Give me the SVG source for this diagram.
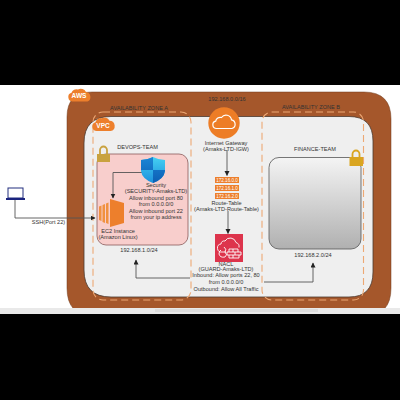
<svg xmlns="http://www.w3.org/2000/svg" width="400" height="400" viewBox="0 0 400 400">
<defs>
<linearGradient id="g" x1="0" y1="0" x2="0" y2="1"><stop offset="0" stop-color="#f4f4f4"/><stop offset="1" stop-color="#b0b0b0"/></linearGradient>
<linearGradient id="sh" x1="0" y1="0" x2="0" y2="1"><stop offset="0" stop-color="#45d0f2"/><stop offset="1" stop-color="#1c8fdc"/></linearGradient>
<linearGradient id="sh2" x1="0" y1="0" x2="0" y2="1"><stop offset="0" stop-color="#1c86d6"/><stop offset="1" stop-color="#0c5fb4"/></linearGradient>
<clipPath id="clip"><rect x="0" y="85" width="400" height="223"/></clipPath>
<marker id="a" markerWidth="6" markerHeight="6" refX="4.500" refY="2.500" orient="auto" markerUnits="userSpaceOnUse"><path d="M0 0L5 2.500L0 5Z" fill="#222"/></marker>
</defs>
<style>
text{font-family:"Liberation Sans",Arial,sans-serif;font-size:5.6px;fill:#333;text-anchor:middle}
.w{fill:#fff;font-weight:700;font-size:6.500px}
.s{font-size:4.600px;fill:#fff}
.dash{fill:none;stroke:#eda874;stroke-width:1.100;stroke-dasharray:7 4}
.c{fill:none;stroke:#555;stroke-width:.9;marker-end:url(#a)}
.or{fill:#ed7f2c}
.ln{fill:none;stroke:#fff;stroke-width:.9}
</style>
<rect width="400" height="400" fill="#000"/>
<rect y="85" width="400" height="223" fill="#fff"/>
<rect y="308" width="400" height="6" fill="#e9e9e9"/>
<rect x="155" y="309" width="163" height="3" fill="#dcdcdc"/>
<g id="aws">
<path clip-path="url(#clip)" d="M92 92H364Q391 92 391 119V288Q391 316 364 316H94Q67 316 67 288V117Q67 92 92 92Z" fill="#a5572b" stroke="#6e3a1c" stroke-width=".5"/>
<path d="M111 116.500H349Q373 116.500 373 141V272Q373 297 349 297H111Q84 297 84 270V143Q84 116.500 111 116.500Z" fill="#efefef" stroke="#4a3a30" stroke-width=".8"/>
<path class="or" d="M73 101.500a4.500 4.500 0 0 1-1.500-8.800a5 5 0 0 1 6.500-3.200a6 6 0 0 1 8 2.500a5 5 0 0 1 1.500 9.500Z"/>
<text class="w" x="79" y="98">AWS</text>
<text x="227" y="100.500">192.168.0.0/16</text>
</g>
<g id="zone-a">
<text x="139" y="110">AVAILABILITY ZONE A</text>
<rect class="dash" x="93" y="112" width="98" height="188" rx="10"/>
</g>
<g id="zone-b">
<text x="311" y="109">AVAILABILITY ZONE B</text>
<rect class="dash" x="262" y="112" width="101.500" height="188" rx="10"/>
</g>
<g id="vpc">
<path class="or" d="M97 131a4.500 4.500 0 0 1-1.500-8.800a5 5 0 0 1 6-4a6 6 0 0 1 8 2.500a5.200 5.200 0 0 1 1 10.300Z"/>
<text class="w" x="103" y="128">VPC</text>
</g>
<g id="devops-team">
<text x="137.500" y="148.700">DEVOPS-TEAM</text>
<rect x="97" y="154" width="91" height="91" rx="9" fill="#f8cecc" stroke="#8a5a5a" stroke-width=".8"/>
<path d="M100 155v-5a3.500 3.500 0 0 1 7 0v5" fill="none" stroke="#c9a23f" stroke-width="1.800"/>
<rect x="97" y="154" width="13" height="8" fill="#c9a23f"/>
</g>
<g id="finance-team">
<text x="315" y="151">FINANCE-TEAM</text>
<rect x="269" y="157.500" width="92" height="91.500" rx="10" fill="url(#g)" stroke="#555" stroke-width=".8"/>
<path d="M352.500 158v-4a3.500 3.500 0 0 1 7 0v4" fill="none" stroke="#d9a520" stroke-width="1.800"/>
<rect x="349.500" y="157" width="13.500" height="9" fill="#d9a520"/>
<text x="313" y="257">192.168.2.0/24</text>
</g>
<g id="connectors">
<path class="c" d="M15 199V218H95"/>
<path class="c" d="M142 172.500H113V198"/>
<path class="c" d="M227 150V175.500"/>
<path class="c" d="M228 211V233.500"/>
<path class="c" d="M190 278H136V260"/>
<path class="c" d="M264 282H313V263"/>
<text x="48.500" y="224">SSH(Port 22)</text>
</g>
<g id="laptop">
<rect x="8" y="188" width="15" height="10" fill="#fff" stroke="#232f7e" stroke-width="1"/>
<rect x="6" y="198" width="19" height="2" fill="#1a237e"/>
</g>
<g id="security">
<path d="M153 157Q147 160 141 160V171Q142 179 153 183Q164 179 165 171V160Q159 160 153 157Z" fill="url(#sh)"/>
<path d="M153 157Q147 160 141 160V170H153ZM153 170H165V171Q164 179 153 183Z" fill="url(#sh2)"/>
<text x="156" y="187">Security</text>
<text x="156" y="193">(SECURITY-Amaks-LTD)</text>
<text x="156" y="199.500">Allow inbound port 80</text>
<text x="156" y="206">from 0.0.0.0/0</text>
<text x="156" y="212.500">Allow inbound port 22</text>
<text x="156" y="219">from your ip address</text>
</g>
<g id="ec2">
<path d="M99 206.500l2.500-1V221l-2.500-1ZM102.500 205l2.500-1v19l-2.500-1ZM106 203.500l2.500-1V224l-2.500-1Z" fill="#f0913f"/>
<path d="M110 199L124 203V223L110 227Z" class="or"/>
<text x="118" y="232.500">EC2 Instance</text>
<text x="118" y="239">(Amazon Linux)</text>
<text x="139" y="252">192.168.1.0/24</text>
</g>
<g id="gateway">
<circle cx="224" cy="123" r="15.700" fill="#ed7d26"/>
<path d="M216.500 128.500a3.700 3.700 0 0 1-.8-7.300a4.500 4.500 0 0 1 5.800-3.700a5.500 5.500 0 0 1 10 2.300a4.500 4.500 0 0 1 .5 8.700Z" fill="none" stroke="#fff" stroke-width="1.200"/>
<text x="226" y="145">Internet Gateway</text>
<text x="226" y="151">(Amaks-LTD-IGW)</text>
</g>
<g id="route-table">
<rect x="215" y="177" width="24" height="6" class="or"/>
<rect x="215" y="185" width="24" height="6" class="or"/>
<rect x="215" y="193" width="24" height="6" class="or"/>
<text class="s" x="227" y="181.800">172.16.0.0</text>
<text class="s" x="227" y="189.800">172.16.1.0</text>
<text class="s" x="227" y="197.800">172.16.2.0</text>
<text x="226.500" y="204.600">Route-Table</text>
<text x="226.500" y="211">(Amaks-LTD-Route-Table)</text>
</g>
<g id="nacl">
<rect x="215" y="234" width="28" height="28" fill="#dd344c"/>
<path class="ln" d="M226 252h-4a4 4 0 0 1-1-8a3.500 3.500 0 0 1 4-3a6 6 0 0 1 11 1.500a4.500 4.500 0 0 1 3 5"/>
<path class="ln" d="M224 247q3 2 1 5q3 3 0 5q-5 1-6-3q0-3 2-4"/>
<path class="ln" d="M229 249h9v3h3v3h-2v3h-10v-3h-2v-3h2zM229 252h9M229 255h10M233 249v3M235 252v3M233 255v3"/>
<text x="226" y="265.500">NACL</text>
<text x="226" y="270.500">(GUARD-Amaks-LTD)</text>
<text x="226" y="277">Inbound: Allow ports 22, 80</text>
<text x="226" y="283.500">from 0.0.0.0/0</text>
<text x="226" y="290.500">Outbound: Allow All Traffic</text>
</g>
</svg>
